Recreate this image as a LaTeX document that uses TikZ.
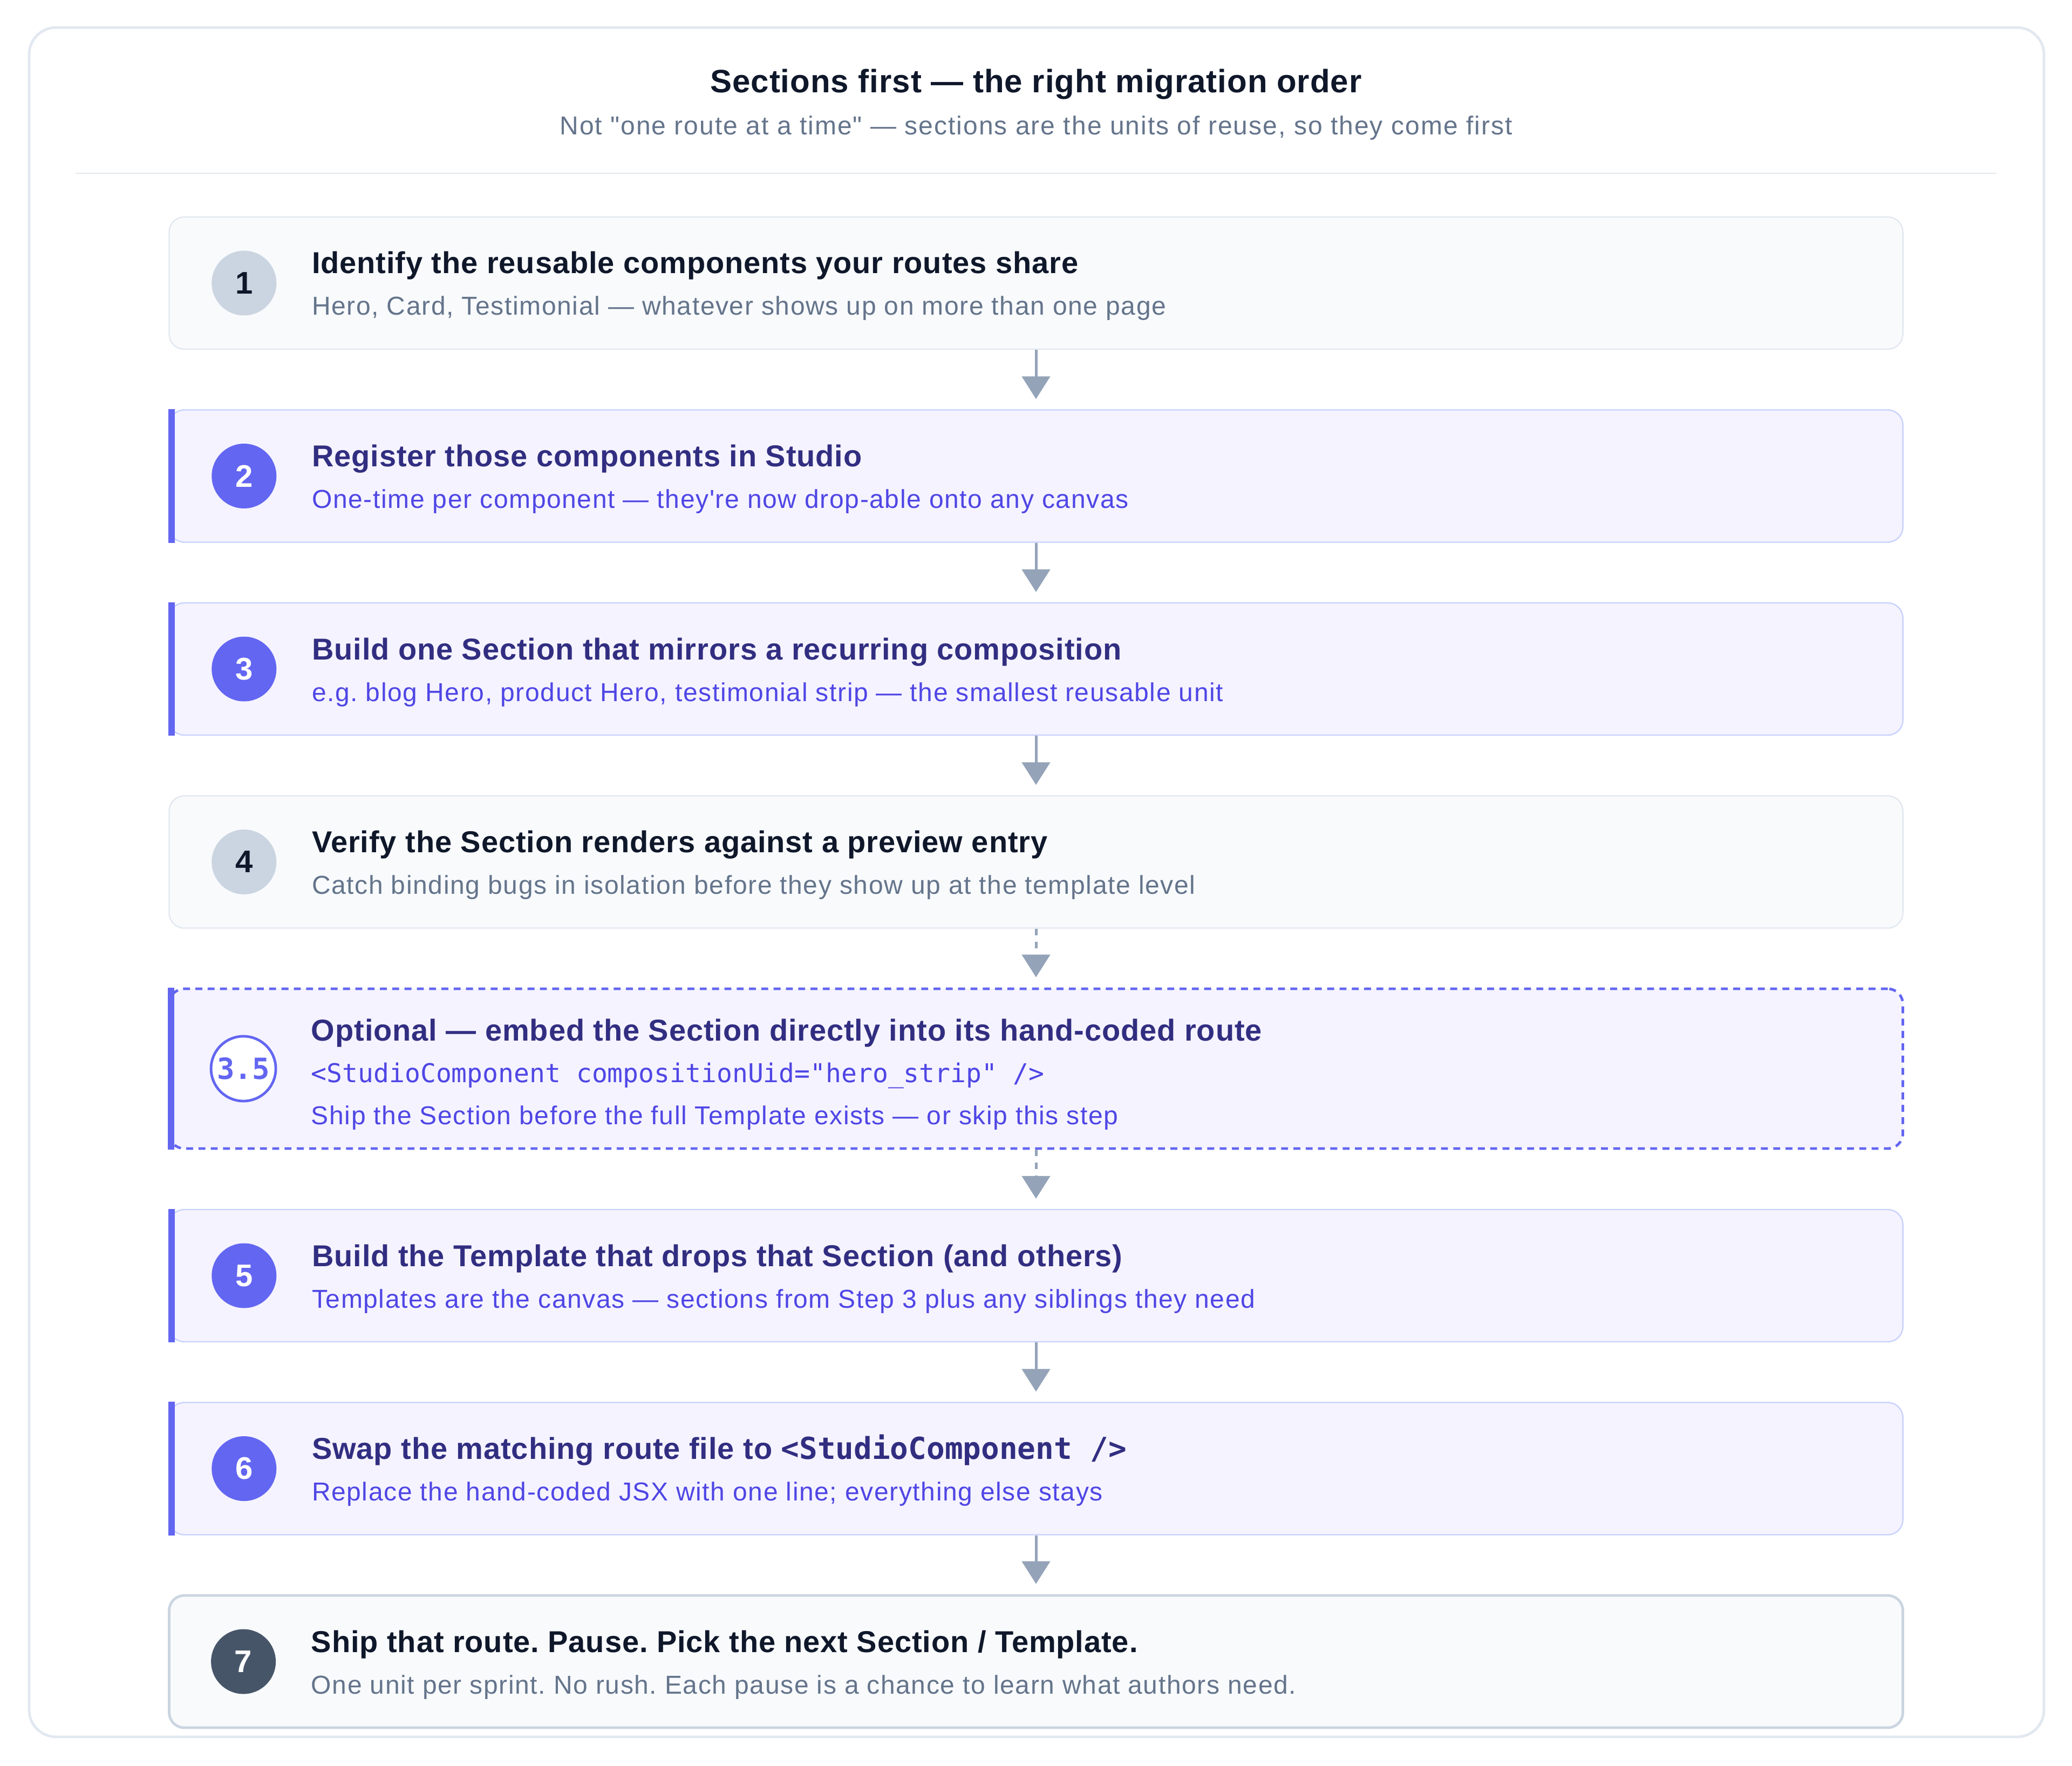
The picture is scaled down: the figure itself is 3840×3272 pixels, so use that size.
\documentclass[tikz,border=0pt]{standalone}
\usepackage{fontspec}
\setmainfont{Liberation Sans}[Ligatures=TeXOff]
\setmonofont{DejaVu Sans Mono}
\newfontfamily\titlefont{Liberation Sans}[Ligatures=TeXOff, LetterSpace=1.6]
\newfontfamily\subfont{Liberation Sans}[Ligatures=TeXOff, LetterSpace=3.4]
\newfontfamily\headsubfont{Liberation Sans}[Ligatures=TeXOff, LetterSpace=4.2]
\usepackage{tikz}
\usetikzlibrary{arrows.meta}
\usetikzlibrary{calc,shapes}
\usepackage{xcolor}
\frenchspacing

\definecolor{slatefaint}{HTML}{F8FAFC}
\definecolor{slateline}{HTML}{E2E8F0}
\definecolor{slatemid}{HTML}{CBD5E1}
\definecolor{slatearrow}{HTML}{94A3B8}
\definecolor{slatetext}{HTML}{64748B}
\definecolor{slatedark}{HTML}{475569}
\definecolor{ink}{HTML}{0F172A}
\definecolor{lav}{HTML}{F5F3FF}
\definecolor{lavline}{HTML}{C7D2FE}
\definecolor{indigo}{HTML}{6366F1}
\definecolor{indigotext}{HTML}{4F46E5}
\definecolor{indigodeep}{HTML}{312E81}

\begin{document}
\begin{tikzpicture}[x=0.25pt,y=-0.25pt,
		card/.style={rectangle, rounded corners=7pt, minimum width=803.25pt, minimum height=61.25pt, line width=0.6pt, inner sep=0pt},
		plaincard/.style={card, draw=slateline, fill=slatefaint},
		lavcard/.style={card, draw=lavline, fill=lav},
		badge/.style={circle, minimum size=30pt, inner sep=0pt, font=\fontsize{14.5}{16}\selectfont\bfseries},
		greybadge/.style={badge, fill=slatemid, text=ink},
		indigobadge/.style={badge, fill=indigo, text=white},
		stitle/.style={anchor=base west, inner sep=0pt, font=\titlefont\fontsize{14}{16}\selectfont\bfseries, text=ink},
		ssub/.style={anchor=base west, inner sep=0pt, font=\subfont\fontsize{12}{14}\selectfont, text=slatetext},
		lavtitle/.style={stitle, text=indigodeep},
		lavsub/.style={ssub, text=indigotext},
		flow/.style={draw=slatearrow, line width=1.25pt, -{Triangle[width=13pt,length=10.5pt]}, shorten >=4.75pt},
		optflow/.style={flow, dash pattern=on 3pt off 3pt}
	]
		% Fond et cadre
		\useasboundingbox (0,0) rectangle (3840,3272);
		\fill[white] (0,0) rectangle (3840,3272);
		\draw[slateline, line width=1.2pt, rounded corners=12.5pt] (54,51) rectangle (3788,3218);
		% En-tete
		\node[anchor=base, inner sep=0pt, font=\titlefont\fontsize{15}{17}\selectfont\bfseries, text=ink] (head) at (1920,172) {Sections first — the right migration order};
		\node[anchor=base, inner sep=0pt, font=\headsubfont\fontsize{12}{14}\selectfont, text=slatetext] (headsub) at (1920,250) {Not "one route at a time" — sections are the units of reuse, so they come first};
		\draw[slateline, line width=0.6pt] (140,321) -- (3700,321);
		% Etape 1
		\node[plaincard] (s1) at (1920,524.5) {};
		\node[greybadge] (n1) at ($(s1.west)+(140,0)$) {1};
		\node[stitle] (t1) at ($(s1.west)+(265,-17.5)$) {Identify the reusable components your routes share};
		\node[ssub] (d1) at ($(s1.west)+(265,59.5)$) {Hero, Card, Testimonial — whatever shows up on more than one page};
		% Etape 2
		\node[lavcard] (s2) at (1920,882) {};
		\fill[indigo] (s2.north west) rectangle ($(s2.south west)+(12,0)$);
		\node[indigobadge] (n2) at ($(s2.west)+(140,0)$) {2};
		\node[lavtitle] (t2) at ($(s2.west)+(265,-17.5)$) {Register those components in Studio};
		\node[lavsub] (d2) at ($(s2.west)+(265,59.5)$) {One-time per component — they're now drop-able onto any canvas};
		% Etape 3
		\node[lavcard] (s3) at (1920,1239.5) {};
		\fill[indigo] (s3.north west) rectangle ($(s3.south west)+(12,0)$);
		\node[indigobadge] (n3) at ($(s3.west)+(140,0)$) {3};
		\node[lavtitle] (t3) at ($(s3.west)+(265,-17.5)$) {Build one Section that mirrors a recurring composition};
		\node[lavsub] (d3) at ($(s3.west)+(265,59.5)$) {e.g. blog Hero, product Hero, testimonial strip — the smallest reusable unit};
		% Etape 4
		\node[plaincard] (s4) at (1920,1597) {};
		\node[greybadge] (n4) at ($(s4.west)+(140,0)$) {4};
		\node[stitle] (t4) at ($(s4.west)+(265,-17.5)$) {Verify the Section renders against a preview entry};
		\node[ssub] (d4) at ($(s4.west)+(265,59.5)$) {Catch binding bugs in isolation before they show up at the template level};
		% Etape optionnelle 3.5
		\node[card, minimum height=74pt, fill=lav, draw=indigo, line width=1.2pt, dash pattern=on 3.2pt off 2.5pt] (s35) at (1920,1980) {};
		\fill[indigo] (s35.north west) rectangle ($(s35.south west)+(12,0)$);
		\node[badge, fill=white, draw=indigo, line width=1.2pt, text=indigo, font=\fontsize{13.5}{15}\selectfont\ttfamily\bfseries] (n35) at ($(s35.west)+(140,0)$) {3.5};
		\node[lavtitle] (t35) at ($(s35.west)+(265,-52)$) {Optional — embed the Section directly into its hand-coded route};
		\node[anchor=base west, inner sep=0pt, font=\fontsize{12}{14}\selectfont\ttfamily, text=indigotext] (c35) at ($(s35.west)+(265,25)$) {<StudioComponent compositionUid="hero\_strip" />};
		\node[lavsub] (d35) at ($(s35.west)+(265,103)$) {Ship the Section before the full Template exists — or skip this step};
		% Etape 5
		\node[lavcard] (s5) at (1920,2363.5) {};
		\fill[indigo] (s5.north west) rectangle ($(s5.south west)+(12,0)$);
		\node[indigobadge] (n5) at ($(s5.west)+(140,0)$) {5};
		\node[lavtitle] (t5) at ($(s5.west)+(265,-17.5)$) {Build the Template that drops that Section (and others)};
		\node[lavsub] (d5) at ($(s5.west)+(265,59.5)$) {Templates are the canvas — sections from Step 3 plus any siblings they need};
		% Etape 6
		\node[lavcard] (s6) at (1920,2721) {};
		\fill[indigo] (s6.north west) rectangle ($(s6.south west)+(12,0)$);
		\node[indigobadge] (n6) at ($(s6.west)+(140,0)$) {6};
		\node[lavtitle] (t6) at ($(s6.west)+(265,-17.5)$) {Swap the matching route file to {\fontsize{14}{16}\selectfont\ttfamily\bfseries <StudioComponent />}};
		\node[lavsub] (d6) at ($(s6.west)+(265,59.5)$) {Replace the hand-coded JSX with one line; everything else stays};
		% Etape 7
		\node[card, draw=slatemid, fill=slatefaint, line width=1.2pt] (s7) at (1920,3078.5) {};
		\node[badge, fill=slatedark, text=white] (n7) at ($(s7.west)+(140,0)$) {7};
		\node[stitle] (t7) at ($(s7.west)+(265,-17.5)$) {Ship that route. Pause. Pick the next Section / Template.};
		\node[ssub] (d7) at ($(s7.west)+(265,59.5)$) {One unit per sprint. No rush. Each pause is a chance to learn what authors need.};
		% Fleches
		\draw[flow] (s1) -- (s2);
		\draw[flow] (s2) -- (s3);
		\draw[flow] (s3) -- (s4);
		\draw[optflow] (s4) -- (s35);
		\draw[optflow] (s35) -- (s5);
		\draw[flow] (s5) -- (s6);
		\draw[flow] (s6) -- (s7);
\end{tikzpicture}
\end{document}
